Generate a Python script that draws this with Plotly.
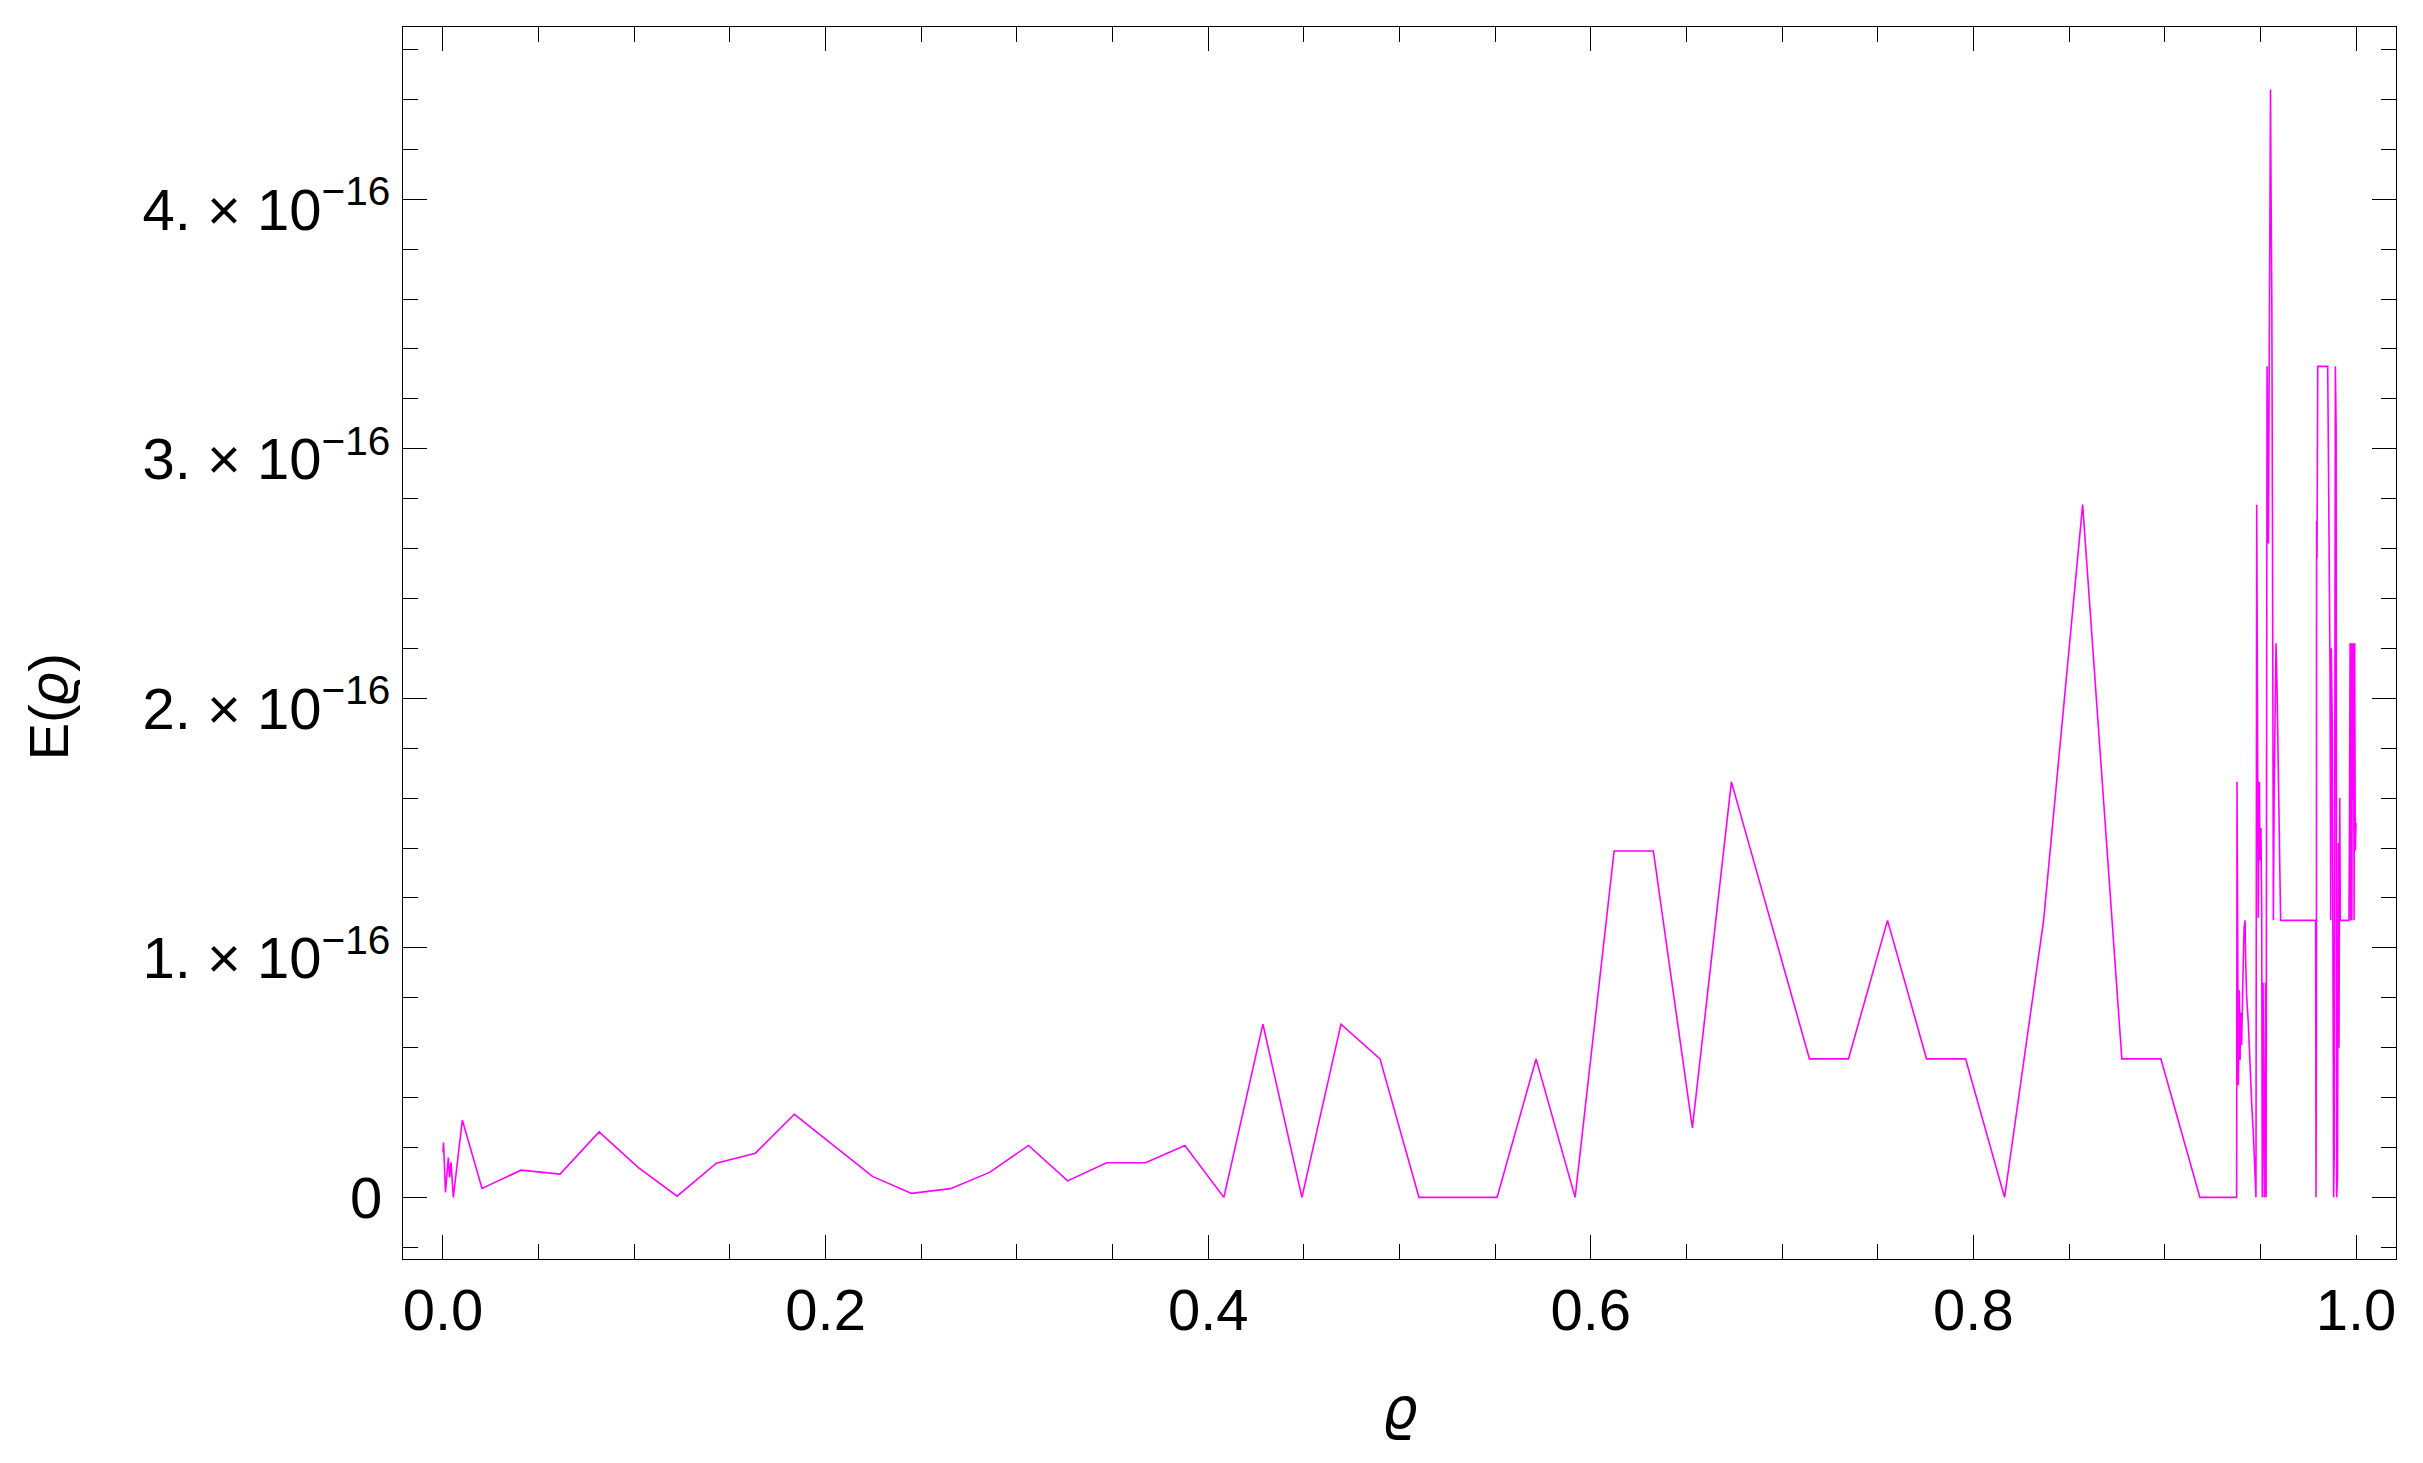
import plotly.graph_objects as go
import numpy as np

# rho samples (adaptive sampling: dense near 0 and near 1)
rho = [
    0.0000, 0.0003, 0.0013, 0.0028, 0.0034, 0.0042, 0.0054, 0.0101,
    0.0204, 0.0408, 0.0612, 0.0816, 0.1020, 0.1224, 0.1429, 0.1633,
    0.1837, 0.2041, 0.2245, 0.2449, 0.2653, 0.2857, 0.3061, 0.3265,
    0.3469, 0.3673, 0.3878, 0.4082, 0.4286, 0.4490, 0.4694, 0.4898,
    0.5102, 0.5306, 0.5510, 0.5714, 0.5918, 0.6122, 0.6327, 0.6531,
    0.6735, 0.6939, 0.7143, 0.7347, 0.7551, 0.7755, 0.7959, 0.8163,
    0.8367, 0.8571, 0.8776, 0.8980, 0.9184,
    0.9376, 0.9378, 0.9380, 0.9385, 0.9390, 0.9394, 0.9397, 0.9402,
    0.9406, 0.9411, 0.9415, 0.9420, 0.9424, 0.9428, 0.9437, 0.9442,
    0.9449, 0.9455, 0.9463, 0.9469, 0.9472, 0.9477,
    0.9481, 0.9484, 0.9489, 0.9492, 0.9495, 0.9498, 0.9503, 0.9507,
    0.9510, 0.9514, 0.9517, 0.9521, 0.9524, 0.9527, 0.9530, 0.9535,
    0.9538, 0.9542, 0.9546, 0.9550, 0.9553, 0.9556, 0.9560, 0.9564,
    0.9568, 0.9572, 0.9578, 0.9582, 0.9587, 0.9592, 0.9597, 0.9601,
    0.9606, 0.9789, 0.9791, 0.9793, 0.9794, 0.9796, 0.9800, 0.9852,
    0.9855, 0.9861, 0.9864, 0.9868, 0.9871, 0.9876, 0.9880, 0.9883,
    0.9886, 0.9889, 0.9892, 0.9896, 0.9899, 0.9903, 0.9908, 0.9911,
    0.9915, 0.9918, 0.9963, 0.9966, 0.9969, 0.9972, 0.9975, 0.9978,
    0.9981, 0.9984, 0.9987, 0.9990, 0.9993, 0.9996, 1.0000,
]

# E(rho) in units of 1e-16
err_e16 = [
    0.18, 0.22, 0.02, 0.16, 0.08, 0.14, 0.00, 0.31,
    0.036, 0.109, 0.093, 0.262, 0.12, 0.005, 0.137, 0.177,
    0.333, 0.21, 0.084, 0.016, 0.035, 0.10, 0.208, 0.066,
    0.139, 0.139, 0.208, 0.0, 0.694, 0.0, 0.694, 0.555,
    0.0, 0.0, 0.0, 0.555, 0.0, 1.388, 1.388, 0.278,
    1.665, 1.11, 0.555, 0.555, 1.11, 0.555, 0.555, 0.0,
    1.11, 2.776, 0.555, 0.555, 0.0,
    0.0, 1.665, 1.28, 0.45, 0.83, 0.55, 0.74, 0.61,
    0.86, 0.96, 1.08, 1.11, 0.92, 0.81, 0.70, 0.59,
    0.48, 0.37, 0.26, 0.15, 0.04, 0.0,
    2.776, 1.92, 1.12, 1.57, 1.665, 1.35, 1.48, 1.15,
    0.0, 0.86, 0.48, 0.0, 0.15, 0.86, 0.0, 3.33,
    3.09, 2.62, 3.33, 4.40, 4.44, 4.02, 3.58, 2.50,
    1.11, 1.62, 2.10, 2.22, 2.05, 1.81, 1.57, 1.34,
    1.11, 1.11, 0.0, 0.70, 2.71, 2.56, 3.33, 3.33,
    3.05, 2.62, 2.13, 1.11, 2.20, 1.88, 0.68, 0.0,
    0.18, 1.40, 3.33, 3.09, 0.0, 0.08, 1.42, 0.60,
    1.60, 1.11, 1.11, 1.50, 2.22, 1.11, 2.22, 1.11,
    2.22, 1.59, 2.22, 1.11, 2.22, 1.39, 1.50,
]

x_ticks = [0.0, 0.2, 0.4, 0.6, 0.8, 1.0]
y_ticks = [0, 1e-16, 2e-16, 3e-16, 4e-16]
# "0" is drawn as an annotation so the exponent labels can sit a bit lower
y_ticktext = ["", "1. \u00d7 10<sup>\u221216</sup>", "2. \u00d7 10<sup>\u221216</sup>",
              "3. \u00d7 10<sup>\u221216</sup>", "4. \u00d7 10<sup>\u221216</sup>"]

fig = go.Figure(go.Scatter(
    x=rho,
    y=np.array(err_e16) * 1e-16,
    mode="lines",
    line=dict(color="#ff00ff", width=1.6),
))

axis_common = dict(
    showline=True, linecolor="black", linewidth=1.2, mirror="allticks",
    ticks="inside", ticklen=24, tickwidth=1.2, tickcolor="black",
    showgrid=False, zeroline=False,
)

fig.update_xaxes(
    range=[-0.0209, 1.0209], tickvals=x_ticks, tickformat=".1f",
    minor=dict(dtick=0.05, tick0=0, ticklen=15, tickwidth=1.2, ticks="inside",
               tickcolor="black", showgrid=False),
    **axis_common,
)
fig.update_yaxes(
    range=[-0.247e-16, 4.69e-16], tickvals=y_ticks, ticktext=y_ticktext,
    ticklabelshift=10,
    minor=dict(dtick=0.2e-16, tick0=0, ticklen=15, tickwidth=1.2, ticks="inside",
               tickcolor="black", showgrid=False),
    **axis_common,
)

# the page body adds ~8px offset, so margins are shifted to compensate
fig.update_layout(
    width=2423, height=1463,
    margin=dict(l=395, r=35, t=19, b=212),
    plot_bgcolor="white", paper_bgcolor="white",
    showlegend=False,
    font=dict(family="Liberation Sans, Arial, sans-serif", size=58, color="black"),
    annotations=[
        dict(text="0", xref="paper", yref="y", x=0, y=0, xshift=-19,
             xanchor="right", yanchor="middle", showarrow=False,
             font=dict(size=58)),
        dict(text="<i>\u03f1</i>", xref="paper", yref="paper", x=0.5, y=-0.121,
             xanchor="center", yanchor="middle", showarrow=False,
             font=dict(size=56, family="DejaVu Sans, Liberation Sans")),
        dict(text="E(<i>\u03f1</i>)", xref="paper", yref="paper", x=-0.178, y=0.448,
             xanchor="center", yanchor="middle", showarrow=False, textangle=-90,
             font=dict(size=56)),
    ],
)

fig.write_html("out.html")
